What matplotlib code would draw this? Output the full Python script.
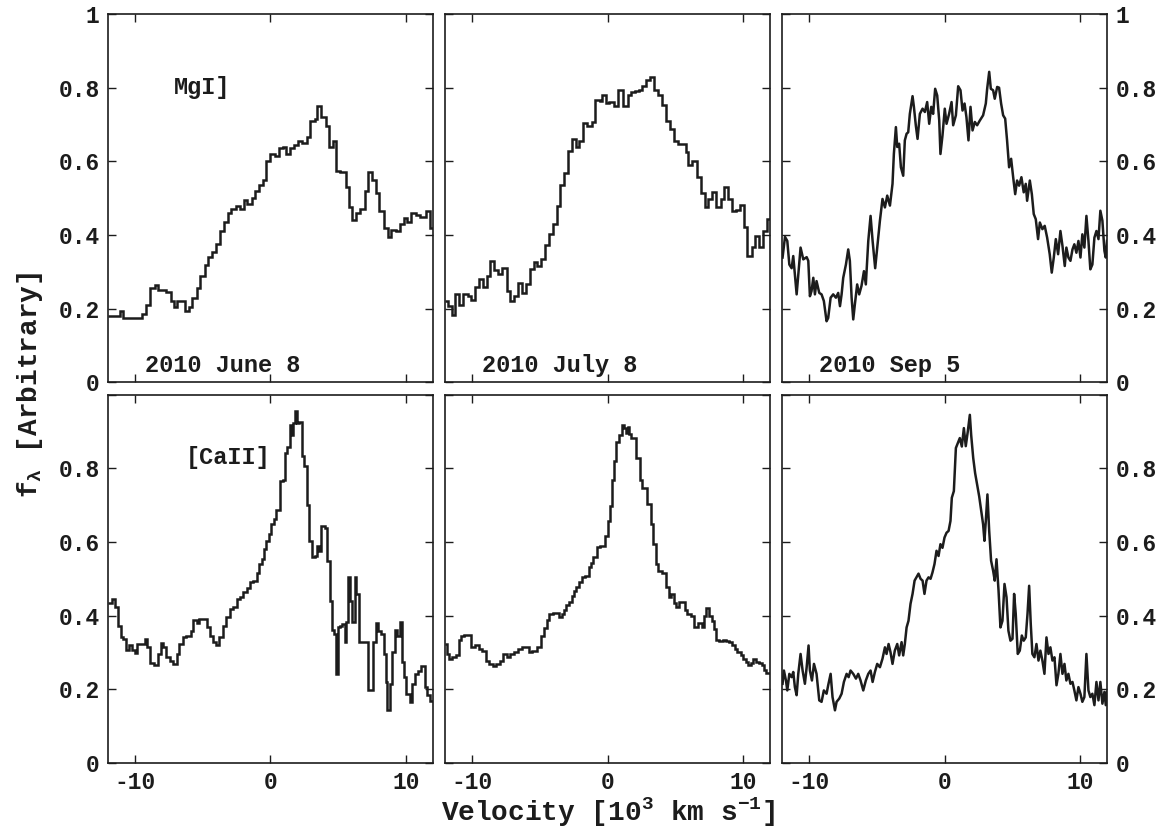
import matplotlib
matplotlib.use("Agg")
import matplotlib.pyplot as plt
import numpy as np

# ---------------- data ----------------
# Top row: MgI] ; step spectra given as left bin edges + flux
v_mg_jun = [-12.0, -11.12, -10.92, -9.52, -9.20, -8.91, -8.54, -8.29, -7.68, -7.38,
            -7.13, -6.89, -6.32, -6.00, -5.76, -5.46, -5.17, -4.85, -4.60, -4.35,
            -4.03, -3.74, -3.44, -3.12, -2.88, -2.56, -2.26, -1.97, -1.72, -1.40,
            -1.11, -0.84, -0.59, -0.30, 0.00, 0.32, 0.64, 0.93, 1.18, 1.43,
            1.72, 2.04, 2.36, 2.71, 2.90, 3.27, 3.47, 3.76, 4.13, 4.33,
            4.58, 4.87, 5.17, 5.56, 5.81, 6.05, 6.35, 6.59, 6.96, 7.21,
            7.53, 7.77, 8.02, 8.36, 8.66, 8.93, 9.25, 9.54, 9.84, 10.09,
            10.41, 10.73, 11.02, 11.51, 11.81]
f_mg_jun = [0.180, 0.195, 0.175, 0.185, 0.210, 0.255, 0.265, 0.250, 0.245, 0.220,
            0.205, 0.220, 0.195, 0.205, 0.230, 0.255, 0.290, 0.320, 0.340, 0.355,
            0.375, 0.410, 0.435, 0.460, 0.470, 0.480, 0.470, 0.495, 0.485, 0.500,
            0.520, 0.535, 0.550, 0.600, 0.620, 0.615, 0.635, 0.640, 0.620, 0.635,
            0.645, 0.655, 0.650, 0.665, 0.710, 0.715, 0.750, 0.720, 0.695, 0.640,
            0.655, 0.575, 0.570, 0.530, 0.475, 0.440, 0.460, 0.470, 0.520, 0.570,
            0.550, 0.515, 0.465, 0.420, 0.395, 0.415, 0.410, 0.430, 0.445, 0.435,
            0.460, 0.455, 0.450, 0.465, 0.420]

v_mg_jul = [-12.0, -11.81, -11.51, -11.24, -10.95, -10.65, -10.33, -10.09, -9.79, -9.52,
            -9.23, -8.93, -8.66, -8.36, -8.12, -7.80, -7.45, -7.18, -6.89, -6.64,
            -6.32, -6.03, -5.73, -5.46, -5.17, -4.92, -4.62, -4.35, -4.06, -3.76,
            -3.49, -3.20, -2.90, -2.63, -2.34, -2.09, -1.80, -1.48, -1.18, -0.91,
            -0.57, -0.37, -0.12, 0.12, 0.49, 0.81, 1.11, 1.48, 1.72, 2.04,
            2.34, 2.58, 2.83, 3.12, 3.44, 3.76, 4.01, 4.31, 4.60, 4.92,
            5.17, 5.41, 5.78, 5.98, 6.27, 6.64, 6.89, 7.21, 7.45, 7.75,
            8.00, 8.36, 8.61, 8.91, 9.18, 9.47, 9.77, 10.09, 10.33, 10.65,
            10.90, 11.19, 11.51, 11.81]
f_mg_jul = [0.220, 0.207, 0.184, 0.239, 0.210, 0.240, 0.234, 0.225, 0.259, 0.280,
            0.259, 0.289, 0.330, 0.304, 0.295, 0.310, 0.248, 0.222, 0.234, 0.270,
            0.243, 0.268, 0.307, 0.328, 0.316, 0.334, 0.372, 0.402, 0.431, 0.480,
            0.536, 0.569, 0.627, 0.661, 0.639, 0.654, 0.704, 0.695, 0.707, 0.767,
            0.764, 0.781, 0.758, 0.761, 0.749, 0.793, 0.749, 0.781, 0.788, 0.791,
            0.793, 0.804, 0.820, 0.829, 0.793, 0.779, 0.752, 0.709, 0.688, 0.655,
            0.646, 0.648, 0.625, 0.589, 0.600, 0.557, 0.513, 0.475, 0.498, 0.516,
            0.475, 0.498, 0.531, 0.498, 0.464, 0.468, 0.482, 0.422, 0.343, 0.368,
            0.398, 0.368, 0.411, 0.443]

v_mg_sep = [-11.96, -11.78, -11.61, -11.46, -11.29, -11.17, -11.05, -10.92, -10.80, -10.63,
            -10.43, -10.18, -10.06, -9.94, -9.82, -9.69, -9.57, -9.45, -9.25, -9.08,
            -8.91, -8.71, -8.59, -8.41, -8.22, -8.02, -7.85, -7.72, -7.60, -7.48,
            -7.28, -7.11, -6.99, -6.86, -6.74, -6.62, -6.45, -6.30, -6.13, -5.95,
            -5.81, -5.63, -5.46, -5.31, -5.12, -4.97, -4.77, -4.58, -4.40, -4.23,
            -4.03, -3.84, -3.74, -3.59, -3.49, -3.35, -3.22, -3.05, -2.93, -2.80,
            -2.68, -2.56, -2.36, -2.26, -2.12, -1.99, -1.82, -1.62, -1.45, -1.28,
            -1.13, -0.98, -0.84, -0.69, -0.54, -0.39, -0.30, -0.15, 0.02, 0.15,
            0.34, 0.52, 0.64, 0.84, 1.01, 1.18, 1.33, 1.48, 1.62, 1.77,
            1.92, 2.07, 2.24, 2.41, 2.61, 2.85, 3.05, 3.15, 3.30, 3.42,
            3.59, 3.71, 3.89, 4.03, 4.18, 4.33, 4.48, 4.62, 4.77, 4.92,
            5.07, 5.22, 5.36, 5.51, 5.68, 5.85, 6.00, 6.10, 6.30, 6.45,
            6.59, 6.74, 6.91, 7.04, 7.23, 7.40, 7.58, 7.77, 7.92, 8.07,
            8.22, 8.39, 8.56, 8.71, 8.88, 9.00, 9.15, 9.30, 9.45, 9.59,
            9.74, 9.89, 10.04, 10.18, 10.33, 10.48, 10.63, 10.77, 10.92, 11.07,
            11.22, 11.37, 11.51, 11.66, 11.81, 11.91, 12.00]
f_mg_sep = [0.339, 0.395, 0.384, 0.320, 0.310, 0.343, 0.293, 0.239, 0.293, 0.366,
            0.334, 0.340, 0.330, 0.234, 0.248, 0.284, 0.239, 0.275, 0.243, 0.239,
            0.221, 0.166, 0.175, 0.230, 0.239, 0.230, 0.243, 0.207, 0.239, 0.284,
            0.320, 0.361, 0.330, 0.230, 0.171, 0.212, 0.266, 0.239, 0.262, 0.302,
            0.266, 0.384, 0.452, 0.384, 0.310, 0.366, 0.439, 0.498, 0.475, 0.507,
            0.480, 0.539, 0.620, 0.693, 0.639, 0.648, 0.584, 0.561, 0.657, 0.675,
            0.679, 0.729, 0.777, 0.748, 0.698, 0.661, 0.729, 0.743, 0.734, 0.761,
            0.702, 0.748, 0.729, 0.797, 0.779, 0.711, 0.620, 0.670, 0.743, 0.702,
            0.729, 0.761, 0.698, 0.725, 0.804, 0.793, 0.738, 0.757, 0.720, 0.657,
            0.748, 0.684, 0.707, 0.698, 0.711, 0.725, 0.757, 0.797, 0.843, 0.797,
            0.793, 0.770, 0.802, 0.800, 0.757, 0.725, 0.716, 0.657, 0.584, 0.607,
            0.557, 0.511, 0.548, 0.534, 0.557, 0.516, 0.539, 0.493, 0.548, 0.511,
            0.457, 0.443, 0.389, 0.434, 0.416, 0.425, 0.393, 0.348, 0.298, 0.339,
            0.389, 0.348, 0.411, 0.371, 0.316, 0.366, 0.339, 0.330, 0.361, 0.375,
            0.352, 0.384, 0.339, 0.402, 0.366, 0.452, 0.384, 0.307, 0.320, 0.393,
            0.411, 0.389, 0.466, 0.439, 0.357, 0.339, 0.384]

# Bottom row: [CaII]
v_ca_jun = [-12.0, -11.73, -11.49, -11.24, -11.07, -10.87, -10.68, -10.43, -10.26, -10.01,
            -9.84, -9.52, -9.27, -9.10, -8.91, -8.61, -8.29, -8.12, -7.92, -7.72,
            -7.43, -7.18, -6.94, -6.77, -6.49, -6.25, -5.90, -5.71, -5.46, -5.26,
            -4.72, -4.48, -4.23, -3.99, -3.79, -3.54, -3.30, -3.00, -2.80, -2.51,
            -2.26, -2.02, -1.77, -1.53, -1.28, -1.03, -0.84, -0.66, -0.49, -0.30,
            -0.10, 0.07, 0.25, 0.44, 0.69, 0.89, 1.06, 1.23, 1.43, 1.55,
            1.67, 1.80, 1.97, 2.12, 2.31, 2.46, 2.66, 2.85, 3.05, 3.27,
            3.44, 3.59, 3.76, 4.01, 4.21, 4.38, 4.55, 4.70, 4.87, 5.02,
            5.17, 5.31, 5.49, 5.61, 5.73, 5.90, 6.05, 6.22, 6.35, 6.54,
            7.21, 7.58, 7.77, 7.95, 8.19, 8.36, 8.51, 8.63, 8.81, 9.00,
            9.18, 9.37, 9.54, 9.72, 9.86, 10.04, 10.28, 10.48, 10.65, 10.90,
            11.09, 11.39, 11.56, 11.81]
f_ca_jun = [0.433, 0.445, 0.423, 0.373, 0.343, 0.337, 0.307, 0.319, 0.307, 0.298,
            0.323, 0.322, 0.337, 0.314, 0.271, 0.265, 0.296, 0.325, 0.314, 0.287,
            0.278, 0.268, 0.296, 0.322, 0.341, 0.346, 0.359, 0.388, 0.379, 0.391,
            0.368, 0.346, 0.328, 0.319, 0.341, 0.373, 0.395, 0.418, 0.423, 0.445,
            0.451, 0.463, 0.475, 0.490, 0.495, 0.517, 0.540, 0.555, 0.580, 0.603,
            0.621, 0.650, 0.663, 0.688, 0.765, 0.769, 0.841, 0.859, 0.918, 0.891,
            0.923, 0.956, 0.923, 0.926, 0.832, 0.805, 0.700, 0.603, 0.558, 0.562,
            0.589, 0.576, 0.643, 0.639, 0.549, 0.441, 0.361, 0.350, 0.241, 0.368,
            0.373, 0.376, 0.328, 0.382, 0.504, 0.441, 0.382, 0.504, 0.459, 0.328,
            0.197, 0.328, 0.379, 0.359, 0.350, 0.296, 0.220, 0.143, 0.215, 0.301,
            0.361, 0.346, 0.382, 0.274, 0.233, 0.188, 0.166, 0.215, 0.241, 0.251,
            0.262, 0.206, 0.184, 0.168]

v_ca_jul = [-12.0, -11.88, -11.73, -11.49, -11.19, -11.00, -10.82, -10.58, -10.09, -9.77,
            -9.52, -9.27, -8.98, -8.78, -8.49, -8.24, -7.95, -7.70, -7.45, -7.21,
            -6.89, -6.64, -6.32, -6.03, -5.78, -5.54, -5.24, -4.92, -4.67, -4.50,
            -4.31, -4.01, -3.57, -3.37, -3.20, -3.03, -2.83, -2.63, -2.46, -2.29,
            -2.09, -1.89, -1.65, -1.40, -1.23, -1.06, -0.81, -0.57, -0.17, 0.00,
            0.17, 0.32, 0.49, 0.66, 0.86, 1.06, 1.23, 1.35, 1.48, 1.60,
            1.72, 2.09, 2.39, 2.58, 2.95, 3.20, 3.37, 3.57, 3.76, 3.99,
            4.35, 4.55, 4.72, 4.92, 5.09, 5.29, 5.73, 5.90, 6.15, 6.40,
            6.72, 6.96, 7.13, 7.31, 7.50, 7.70, 7.87, 8.04, 8.24, 8.54,
            8.78, 8.98, 9.18, 9.42, 9.59, 9.84, 10.01, 10.21, 10.41, 10.58,
            10.75, 10.95, 11.19, 11.39, 11.56, 11.73]
f_ca_jul = [0.323, 0.296, 0.283, 0.288, 0.293, 0.334, 0.346, 0.348, 0.316, 0.319,
            0.310, 0.304, 0.278, 0.268, 0.262, 0.269, 0.278, 0.296, 0.288, 0.295,
            0.301, 0.310, 0.316, 0.314, 0.301, 0.305, 0.314, 0.346, 0.367, 0.388,
            0.405, 0.407, 0.397, 0.405, 0.415, 0.430, 0.438, 0.454, 0.466, 0.477,
            0.490, 0.504, 0.508, 0.531, 0.544, 0.558, 0.586, 0.589, 0.616, 0.657,
            0.697, 0.767, 0.819, 0.871, 0.891, 0.918, 0.909, 0.895, 0.911, 0.893,
            0.882, 0.828, 0.769, 0.747, 0.702, 0.648, 0.594, 0.540, 0.522, 0.517,
            0.477, 0.450, 0.459, 0.433, 0.424, 0.436, 0.414, 0.405, 0.400, 0.370,
            0.379, 0.370, 0.400, 0.420, 0.400, 0.386, 0.364, 0.334, 0.331, 0.334,
            0.332, 0.328, 0.319, 0.310, 0.301, 0.293, 0.283, 0.274, 0.265, 0.271,
            0.283, 0.274, 0.271, 0.265, 0.253, 0.244]

v_ca_sep = [-11.96, -11.86, -11.71, -11.61, -11.46, -11.29, -11.17, -11.05, -10.92, -10.80,
            -10.63, -10.48, -10.31, -10.18, -10.04, -9.94, -9.79, -9.64, -9.45, -9.25,
            -9.08, -8.91, -8.71, -8.59, -8.41, -8.27, -8.09, -7.97, -7.77, -7.60,
            -7.43, -7.23, -7.08, -6.94, -6.74, -6.54, -6.37, -6.20, -6.00, -5.81,
            -5.63, -5.46, -5.31, -5.14, -4.97, -4.77, -4.58, -4.40, -4.28, -4.13,
            -3.99, -3.84, -3.67, -3.49, -3.35, -3.17, -3.05, -2.93, -2.80, -2.66,
            -2.51, -2.36, -2.21, -2.07, -1.92, -1.77, -1.62, -1.48, -1.33, -1.18,
            -1.03, -0.89, -0.74, -0.59, -0.44, -0.30, -0.15, 0.00, 0.15, 0.30,
            0.44, 0.54, 0.69, 0.84, 0.98, 1.13, 1.28, 1.43, 1.57, 1.72,
            1.87, 1.97, 2.12, 2.26, 2.41, 2.56, 2.71, 2.85, 2.95, 3.05,
            3.17, 3.30, 3.44, 3.59, 3.71, 3.84, 3.99, 4.13, 4.28, 4.43,
            4.58, 4.72, 4.87, 5.02, 5.14, 5.26, 5.41, 5.56, 5.71, 5.85,
            6.00, 6.13, 6.25, 6.37, 6.49, 6.64, 6.79, 6.94, 7.08, 7.23,
            7.38, 7.53, 7.68, 7.82, 7.97, 8.12, 8.27, 8.41, 8.56, 8.71,
            8.86, 9.00, 9.15, 9.30, 9.45, 9.59, 9.74, 9.89, 10.04, 10.18,
            10.33, 10.48, 10.63, 10.77, 10.92, 11.07, 11.22, 11.37, 11.51, 11.66,
            11.81, 11.91, 12.00]
f_ca_sep = [0.215, 0.251, 0.224, 0.197, 0.242, 0.233, 0.247, 0.206, 0.184, 0.242,
            0.296, 0.251, 0.215, 0.260, 0.319, 0.251, 0.224, 0.269, 0.242, 0.170,
            0.166, 0.197, 0.188, 0.211, 0.242, 0.179, 0.143, 0.166, 0.175, 0.188,
            0.220, 0.242, 0.233, 0.251, 0.242, 0.229, 0.242, 0.224, 0.197, 0.224,
            0.242, 0.251, 0.220, 0.247, 0.269, 0.260, 0.283, 0.314, 0.296, 0.323,
            0.301, 0.269, 0.305, 0.323, 0.292, 0.328, 0.292, 0.323, 0.368, 0.386,
            0.432, 0.459, 0.495, 0.504, 0.514, 0.500, 0.495, 0.459, 0.495, 0.504,
            0.500, 0.517, 0.540, 0.576, 0.562, 0.594, 0.584, 0.612, 0.625, 0.630,
            0.657, 0.720, 0.738, 0.855, 0.868, 0.882, 0.859, 0.909, 0.860, 0.900,
            0.945, 0.890, 0.828, 0.787, 0.756, 0.724, 0.684, 0.648, 0.603, 0.657,
            0.729, 0.630, 0.549, 0.522, 0.495, 0.553, 0.468, 0.368, 0.386, 0.486,
            0.450, 0.359, 0.332, 0.337, 0.459, 0.405, 0.296, 0.305, 0.346, 0.332,
            0.341, 0.405, 0.481, 0.377, 0.296, 0.287, 0.323, 0.278, 0.305, 0.278,
            0.242, 0.341, 0.296, 0.314, 0.278, 0.287, 0.211, 0.242, 0.296, 0.242,
            0.269, 0.224, 0.242, 0.215, 0.220, 0.197, 0.170, 0.206, 0.188, 0.166,
            0.179, 0.296, 0.197, 0.179, 0.188, 0.157, 0.220, 0.170, 0.220, 0.161,
            0.193, 0.157, 0.193]

dates = ["2010 June 8", "2010 July 8", "2010 Sep 5"]
lines = ["MgI]", "[CaII]"]
x_ticks = [-10, 0, 10]
x_tick_labels = ["-10", "0", "10"]
y_ticks = [0, 0.2, 0.4, 0.6, 0.8, 1.0]
y_tick_labels_top = ["0", "0.2", "0.4", "0.6", "0.8", "1"]
y_tick_labels_bot = ["0", "0.2", "0.4", "0.6", "0.8", ""]

# ---------------- style ----------------
FONT = "Liberation Mono"
plt.rcParams["font.family"] = [FONT, "DejaVu Sans"]
plt.rcParams["font.weight"] = "bold"
plt.rcParams["mathtext.fontset"] = "custom"
plt.rcParams["mathtext.rm"] = FONT + ":bold"
plt.rcParams["mathtext.it"] = FONT + ":bold"
plt.rcParams["mathtext.bf"] = FONT + ":bold"

LC = "#1c1c1c"
LW = 1.8

fig, axes = plt.subplots(2, 3, figsize=(11.64, 8.31), dpi=100)
fig.subplots_adjust(left=108 / 1164, right=1107 / 1164, top=1 - 14 / 831,
                    bottom=1 - 763 / 831, wspace=0.037, hspace=0.033)

step_data = {
    (0, 0): (v_mg_jun, f_mg_jun),
    (0, 1): (v_mg_jul, f_mg_jul),
    (1, 0): (v_ca_jun, f_ca_jun),
    (1, 1): (v_ca_jul, f_ca_jul),
}
line_data = {
    (0, 2): (v_mg_sep, f_mg_sep),
    (1, 2): (v_ca_sep, f_ca_sep),
}

for (r, c), (v, f) in step_data.items():
    edges = list(v) + [12.0]
    axes[r, c].stairs(f, edges, color=LC, lw=LW, baseline=None)
for (r, c), (v, f) in line_data.items():
    axes[r, c].plot(v, f, color=LC, lw=LW)

for r in range(2):
    for c in range(3):
        ax = axes[r, c]
        ax.set_xlim(-12, 12)
        ax.set_ylim(0, 1)
        ax.set_xticks(x_ticks)
        ax.set_yticks(y_ticks)
        ax.tick_params(direction="in", top=True, right=True, length=6, width=1.0,
                       labelsize=16.5, pad=6, colors=LC)
        for s in ax.spines.values():
            s.set_linewidth(1.2)
            s.set_color(LC)
        if r == 1:
            ax.set_xticklabels(x_tick_labels)
        else:
            ax.tick_params(labelbottom=False)
        ax.set_yticklabels(y_tick_labels_top if r == 0 else y_tick_labels_bot)
        if c == 0:
            ax.tick_params(labelleft=True, labelright=False)
        elif c == 2:
            ax.tick_params(labelleft=False, labelright=True)
        else:
            ax.tick_params(labelleft=False, labelright=False)

for c in range(3):
    axes[0, c].text(-9.3, 0.045, dates[c], fontsize=17, fontweight="bold", color=LC,
                    ha="left", va="center")

axes[0, 0].text(-7.1, 0.80, lines[0], fontsize=17, fontweight="bold", color=LC,
                ha="left", va="center")
axes[1, 0].text(-6.25, 0.83, lines[1], fontsize=17, fontweight="bold", color=LC,
                ha="left", va="center")

fig.text(608 / 1164, 1 - 812 / 831, r"Velocity [10$^{3}$ km s$^{-1}$]", fontsize=20,
         fontweight="bold", ha="center", va="center", color=LC)
fig.text(30 / 1164, 1 - 385 / 831, r"f$_{\lambda}$ [Arbitrary]", fontsize=20,
         fontweight="bold", ha="center", va="center", rotation=90, color=LC)

fig.savefig("out.png", dpi=100)
